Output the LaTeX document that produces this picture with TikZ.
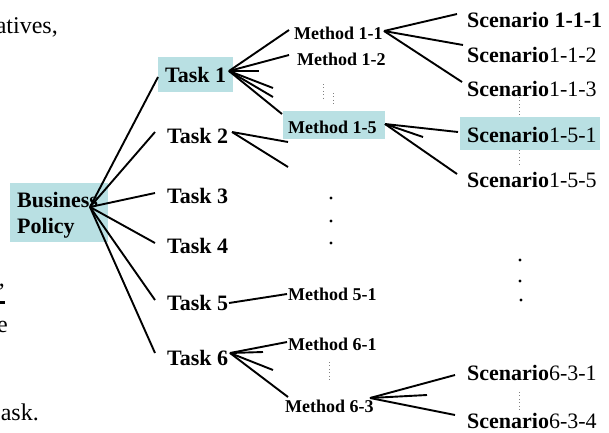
\documentclass[tikz,border=0pt]{standalone}
\usepackage{fontspec}
\setmainfont{Liberation Serif}
\definecolor{hl}{RGB}{185,224,227}
\begin{document}
\begin{tikzpicture}[x=1pt,y=-1pt,
  lbl/.style={inner sep=0pt, anchor=base west, font=\fontsize{22}{26}\selectfont\bfseries},
  mth/.style={inner sep=0pt, anchor=base west, font=\fontsize{18}{21}\selectfont\bfseries},
  frag/.style={inner sep=0pt, anchor=base east, font=\fontsize{24}{28}\selectfont},
  hlbox/.style={fill=hl, draw=none, inner sep=0pt},
  link/.style={line width=1.9pt},
  dotsv/.style={gray, line width=0.6pt, dash pattern=on 0.8pt off 2.6pt},
  bigdot/.style={circle, fill=black, inner sep=0pt, minimum size=3.2pt}]
\useasboundingbox (0,0) rectangle (609,432);

% highlight boxes
\node[hlbox, minimum width=98, minimum height=59] (bpbox) at (59,212.5) {};
\node[hlbox, minimum width=75, minimum height=35] (t1box) at (195.5,74.5) {};
\node[hlbox, minimum width=102, minimum height=28] (m15box) at (334,125) {};
\node[hlbox, minimum width=140, minimum height=33] (s151box) at (530,133.5) {};

% cut-off slide text at the left
\node[frag] (fa) at (58,33) {atives,};
\node[frag] (fb) at (5,286) {,};
\node[fill=black, inner sep=0pt, minimum width=5pt, minimum height=3pt] (fc) at (2.5,302.5) {};
\node[frag] (fd) at (8,332) {e};
\node[frag] (fe) at (39,420) {ask.};

% labels
\node[lbl] (bp1) at (17,207) {Business};
\node[lbl] (bp2) at (17,233) {Policy};

\node[lbl] (t1) at (165,82) {Task 1};
\node[lbl] (t2) at (167,143) {Task 2};
\node[lbl] (t3) at (167,203) {Task 3};
\node[lbl] (t4) at (167,253) {Task 4};
\node[lbl] (t5) at (167,310) {Task 5};
\node[lbl] (t6) at (167,365) {Task 6};

\node[mth] (m11) at (294,39) {Method 1-1};
\node[mth] (m12) at (297,65) {Method 1-2};
\node[mth] (m15) at (288,133) {Method 1-5};
\node[mth] (m51) at (288,300) {Method 5-1};
\node[mth] (m61) at (288,350) {Method 6-1};
\node[mth] (m63) at (285,412) {Method 6-3};

\node[lbl] (s111) at (467,27) {Scenario 1-1-1};
\node[lbl] (s112) at (467,62) {Scenario\mdseries 1-1-2};
\node[lbl] (s113) at (467,96) {Scenario\mdseries 1-1-3};
\node[lbl] (s151) at (467,142) {Scenario\mdseries 1-5-1};
\node[lbl] (s155) at (467,187) {Scenario\mdseries 1-5-5};
\node[lbl] (s631) at (467,380) {Scenario\mdseries 6-3-1};
\node[lbl] (s634) at (467,428) {Scenario\mdseries 6-3-4};

% hubs and line ends
\coordinate (hbp) at (90,207);
\coordinate (e1) at (158,77);
\coordinate (e2) at (155,132);
\coordinate (e3) at (155,193);
\coordinate (e4) at (155,243);
\coordinate (e5) at (155,300);
\coordinate (e6) at (155,353);

\coordinate (h1) at (229,71);
\coordinate (a11) at (289,30);
\coordinate (a12) at (289,55);
\coordinate (a13) at (259,71);
\coordinate (a14) at (273,88);
\coordinate (a15) at (273,97);
\coordinate (a16) at (282,114);

\coordinate (h2) at (232,132);
\coordinate (a21) at (288,142);
\coordinate (a22) at (288,167);

\coordinate (hm11) at (384,31);
\coordinate (b1) at (457,14);
\coordinate (b2) at (463,45);
\coordinate (b3) at (462,82);

\coordinate (hm15) at (385,124);
\coordinate (c1) at (458,132);
\coordinate (c2) at (423,137);
\coordinate (c3) at (457,174);

\coordinate (h5) at (229,303);
\coordinate (d1) at (287,294);

\coordinate (h6) at (230,353);
\coordinate (f1) at (287,342);
\coordinate (f2) at (263,352);
\coordinate (f3) at (273,370);
\coordinate (f4) at (288,397);

\coordinate (hm63) at (370,398);
\coordinate (g1) at (455,375);
\coordinate (g2) at (427,395);
\coordinate (g3) at (455,415);

% connectors
\foreach \e in {e1,e2,e3,e4,e5,e6} \draw[link] (hbp) -- (\e);
\foreach \e in {a11,a12,a13,a14,a15,a16} \draw[link] (h1) -- (\e);
\foreach \e in {a21,a22} \draw[link] (h2) -- (\e);
\foreach \e in {b1,b2,b3} \draw[link] (hm11) -- (\e);
\foreach \e in {c1,c2,c3} \draw[link] (hm15) -- (\e);
\draw[link] (h5) -- (d1);
\foreach \e in {f1,f2,f3,f4} \draw[link] (h6) -- (\e);
\foreach \e in {g1,g2,g3} \draw[link] (hm63) -- (\e);

% small vertical dotted marks
\coordinate (v1a) at (323,84);  \coordinate (v1b) at (323,100);
\coordinate (v2a) at (333,93);  \coordinate (v2b) at (333,104);
\coordinate (v3a) at (519,97);  \coordinate (v3b) at (519,117);
\coordinate (v4a) at (519,150); \coordinate (v4b) at (519,166);
\coordinate (v5a) at (329,362); \coordinate (v5b) at (329,381);
\coordinate (v6a) at (519,392); \coordinate (v6b) at (519,411);
\draw[dotsv] (v1a) -- (v1b);
\draw[dotsv] (v2a) -- (v2b);
\draw[dotsv] (v3a) -- (v3b);
\draw[dotsv] (v4a) -- (v4b);
\draw[dotsv] (v5a) -- (v5b);
\draw[dotsv] (v6a) -- (v6b);

% big dots
\node[bigdot] (p1) at (331,198) {};
\node[bigdot] (p2) at (331,221) {};
\node[bigdot] (p3) at (331,243) {};
\node[bigdot] (p4) at (520,260) {};
\node[bigdot] (p5) at (520,281) {};
\node[bigdot] (p6) at (521,300) {};
\end{tikzpicture}
\end{document}
